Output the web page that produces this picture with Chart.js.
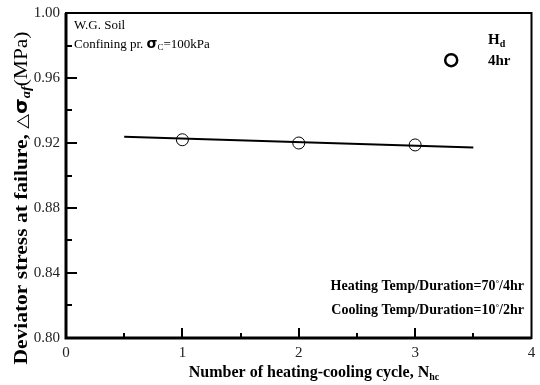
<!DOCTYPE html>
<html lang="en">
  <head>
    <meta charset="UTF-8" />
    <title>Deviator stress vs heating-cooling cycles</title>
    <style>
      body {
        margin: 0;
        background: #fff;
      }
      .chart-container {
        width: 540px;
        height: 385px;
        position: relative;
      }
    </style>
  </head>
  <body>
    <div class="chart-container">
      <canvas id="stressChart"></canvas>
    </div>
    <script src="https://cdn.jsdelivr.net/npm/chart.js"></script>
    <script>
      // measured points (cycle number vs deviator stress at failure, MPa)
      const cycles = [1, 2, 3];
      const stress = [0.922, 0.920, 0.9188];
      // fitted trend line end points
      const trendX = [0.5, 3.5];
      const trendY = [0.9238, 0.9172];
      // legend marker position
      const legendX = [3.31];
      const legendY = [0.971];

      const yMin = 0.8, yMax = 1.0;
      const xMin = 0, xMax = 4;

      const serif = '"Liberation Serif", "Times New Roman", serif';

      function richWidth(ctx, parts) {
        let total = 0;
        parts.forEach((p) => {
          ctx.font = p.font;
          total += ctx.measureText(p.t).width;
        });
        return total;
      }

      // draws a run of text pieces, each with its own font and vertical shift
      function drawRich(ctx, parts, x, y, align) {
        const total = richWidth(ctx, parts);
        let cx = align === "center" ? x - total / 2 : align === "right" ? x - total : x;
        ctx.textAlign = "left";
        ctx.textBaseline = "alphabetic";
        parts.forEach((p) => {
          ctx.font = p.font;
          ctx.fillText(p.t, cx, y + (p.dy || 0));
          cx += ctx.measureText(p.t).width;
        });
      }

      const framePlugin = {
        id: "frame",
        afterDraw(chart) {
          const ctx = chart.ctx;
          const a = chart.chartArea;
          const xs = chart.scales.x;
          const ys = chart.scales.y;
          ctx.save();
          ctx.strokeStyle = "#000";
          ctx.fillStyle = "#000";

          // inward ticks
          ctx.lineWidth = 2;
          for (let v = 0.02; v < yMax - yMin - 0.001; v += 0.02) {
            const val = yMin + v;
            const py = Math.round(ys.getPixelForValue(val));
            const major = Math.round(val * 100) % 4 === 0;
            ctx.beginPath();
            ctx.moveTo(a.left, py);
            ctx.lineTo(a.left + (major ? 11 : 6), py);
            ctx.stroke();
          }
          for (let v = 0.5; v < xMax; v += 0.5) {
            const px = Math.round(xs.getPixelForValue(v));
            const major = Number.isInteger(v);
            ctx.beginPath();
            ctx.moveTo(px, a.bottom);
            ctx.lineTo(px, a.bottom - (major ? 10 : 5));
            ctx.stroke();
          }

          // plot frame
          ctx.lineWidth = 2;
          ctx.strokeRect(a.left, a.top, a.right - a.left, a.bottom - a.top);
          ctx.lineWidth = 3;
          ctx.beginPath();
          ctx.moveTo(a.left, a.top);
          ctx.lineTo(a.left, a.bottom);
          ctx.lineTo(a.right, a.bottom);
          ctx.stroke();

          // notes inside the plot
          drawRich(ctx, [{ t: "W.G. Soil", font: "13px " + serif }], 74, 29, "left");
          drawRich(
            ctx,
            [
              { t: "Confining pr. ", font: "13px " + serif },
              { t: "σ", font: "bold 14px 'DejaVu Sans', sans-serif" },
              { t: "C", font: "9px " + serif, dy: 2 },
              { t: "=100kPa", font: "13px " + serif },
            ],
            74,
            48,
            "left"
          );
          drawRich(
            ctx,
            [
              { t: "H", font: "bold 15px " + serif },
              { t: "d", font: "bold 10px " + serif, dy: 3 },
            ],
            488,
            44,
            "left"
          );
          drawRich(ctx, [{ t: "4hr", font: "bold 15px " + serif }], 488, 65, "left");

          drawRich(
            ctx,
            [
              { t: "Heating Temp/Duration=70", font: "bold 14px " + serif },
              { t: "°", font: "bold 9px " + serif, dy: -4 },
              { t: "/4hr", font: "bold 14px " + serif },
            ],
            524,
            290,
            "right"
          );
          drawRich(
            ctx,
            [
              { t: "Cooling Temp/Duration=10", font: "bold 14px " + serif },
              { t: "°", font: "bold 9px " + serif, dy: -4 },
              { t: "/2hr", font: "bold 14px " + serif },
            ],
            524,
            314,
            "right"
          );

          // axis titles
          drawRich(
            ctx,
            [
              { t: "Number of heating-cooling cycle, N", font: "bold 16px " + serif },
              { t: "hc", font: "bold 10px " + serif, dy: 3 },
            ],
            314,
            377,
            "center"
          );
          const yTitle = [
            { t: "Deviator stress at failure, ", font: "bold 18px " + serif },
            { t: "△", font: "16px 'DejaVu Sans', sans-serif" },
            { t: "σ", font: "bold 17px 'DejaVu Sans', sans-serif" },
            { t: "af", font: "bold italic 12px " + serif, dy: 3 },
            { t: "(MPa)", font: "18px " + serif },
          ];
          // stretch the rotated title along the axis
          const stretch = 333 / richWidth(ctx, yTitle);
          ctx.translate(27, 198);
          ctx.rotate(-Math.PI / 2);
          ctx.scale(stretch, 1);
          drawRich(ctx, yTitle, 0, 0, "center");
          ctx.restore();
        },
      };

      const config = {
        type: "scatter",
        data: {
          datasets: [
            {
              label: "trend",
              type: "line",
              data: trendX.map((x, i) => ({ x: x, y: trendY[i] })),
              borderColor: "#000",
              borderWidth: 2,
              pointRadius: 0,
              fill: false,
            },
            {
              label: "Hd 4hr",
              data: cycles.map((x, i) => ({ x: x, y: stress[i] })),
              pointStyle: "circle",
              pointRadius: 6,
              pointBorderWidth: 1,
              pointBorderColor: "#000",
              pointBackgroundColor: "rgba(0,0,0,0)",
            },
            {
              label: "legend marker",
              data: legendX.map((x, i) => ({ x: x, y: legendY[i] })),
              pointStyle: "circle",
              pointRadius: 6,
              pointBorderWidth: 2.5,
              pointBorderColor: "#000",
              pointBackgroundColor: "rgba(0,0,0,0)",
            },
          ],
        },
        options: {
          responsive: false,
          animation: false,
          layout: { padding: { left: 0, right: 5, top: 13, bottom: 0 } },
          plugins: {
            legend: { display: false },
            tooltip: { enabled: false },
          },
          scales: {
            x: {
              type: "linear",
              min: xMin,
              max: xMax,
              grid: { display: false, drawTicks: false },
              border: { display: false },
              ticks: {
                stepSize: 1,
                padding: 6,
                color: "#222",
                font: { family: serif, size: 15 },
              },
              afterFit(scale) {
                scale.height = 47;
                scale.paddingLeft = 0;
                scale.paddingRight = 0;
              },
            },
            y: {
              min: yMin,
              max: yMax,
              grid: { display: false, drawTicks: false },
              border: { display: false },
              ticks: {
                stepSize: 0.04,
                padding: 6,
                color: "#222",
                font: { family: serif, size: 15 },
                callback: (v) => v.toFixed(2),
              },
              afterFit(scale) {
                scale.width = 66;
                scale.paddingTop = 0;
                scale.paddingBottom = 0;
              },
            },
          },
        },
        plugins: [framePlugin],
      };

      const canvas = document.getElementById("stressChart");
      canvas.width = 540;
      canvas.height = 385;
      new Chart(canvas, config);
    </script>
  </body>
</html>
